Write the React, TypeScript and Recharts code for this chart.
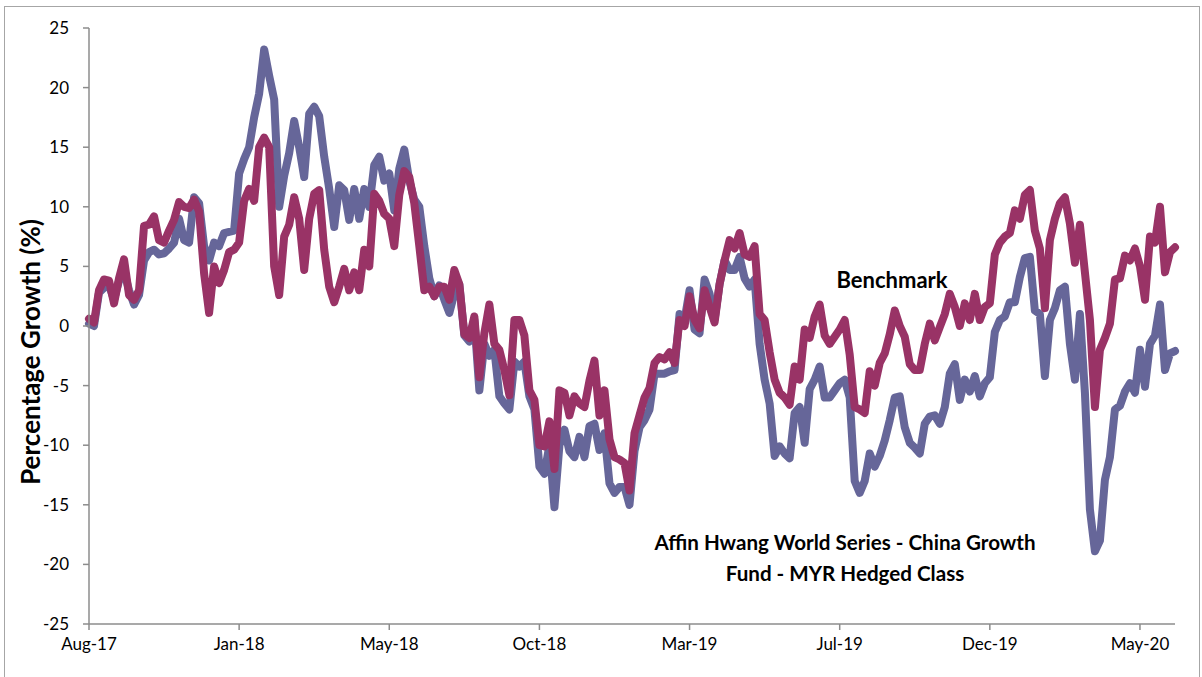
import React from 'react'
import { LineChart, Line, XAxis, YAxis } from 'recharts'

// category ticks shown on the date axis (index into the series)
const tickLabels = ['Aug-17', 'Jan-18', 'May-18', 'Oct-18', 'Mar-19', 'Jul-19', 'Dec-19', 'May-20']
const tickIndex = [0, 30, 60, 90, 120, 150, 180, 210]
const yTicks = [-25, -20, -15, -10, -5, 0, 5, 10, 15, 20, 25]

// Benchmark, % growth
const benchmark = [
  0.6, 0.3, 3.0, 3.9, 3.8, 1.9, 4.0, 5.6, 2.6, 2.2,
  3.0, 8.4, 8.5, 9.2, 7.2, 7.0, 8.0, 8.9, 10.4, 10.0,
  9.9, 10.6, 9.6, 4.4, 1.1, 5.0, 3.6, 4.7, 6.2, 6.4,
  7.0, 10.5, 11.5, 10.5, 15.0, 15.8, 15.0, 5.0,
  2.6, 7.5, 8.5, 10.8, 9.0, 4.7, 9.0, 11.1, 11.4, 6.4,
  3.3, 2.0, 3.3, 4.8, 3.0, 4.5, 3.0, 6.4, 5.0, 11.1,
  10.5, 9.4, 9.0, 6.7, 11.0, 13.0, 12.5, 10.3, 6.7, 3.0,
  3.3, 2.5, 3.3, 3.3, 2.2, 4.7, 3.5,
  -0.7, -1.0, 0.8, -4.3, -0.6, 1.8, -1.5, -2.0, -3.7, -5.8,
  0.5, 0.5, -0.8, -5.4, -6.2, -10.0, -10.1, -8.0, -12.0, -5.4,
  -5.6, -7.5, -5.9, -6.5, -6.8, -4.6, -2.9, -7.5, -5.4, -9.5,
  -11.0, -11.2, -11.5, -13.8, -9.0, -7.5, -6.0,
  -5.2, -3.1, -2.6, -2.8, -2.2, -3.1, 0.5, 0.0, 2.5, 0.5,
  -0.2, 3.0, 1.6, 0.3, 3.5, 5.5, 7.2, 6.5, 7.8, 6.0,
  5.8, 6.7, 1.0, 0.5, -2.2, -4.5, -5.6, -6.0, -6.6, -3.4,
  -4.5, -0.3, -1.0, 0.8, 1.8, -0.8, -1.5,
  -0.9, -0.3, 0.5, -2.4, -6.8, -7.0, -7.3, -3.8, -5.0, -3.1,
  -2.3, -0.7, 1.3, 0.0, -0.9, -3.2, -3.7, -3.7, -1.5, 0.2,
  -1.2, -0.1, 1.0, 2.7, 1.6, 0.0, 1.9, 0.5, 2.7, 0.5,
  1.6, 1.9, 6.0, 7.0, 7.5, 7.8, 9.7,
  9.0, 11.0, 11.4, 8.0, 6.5, 1.5, 7.2, 9.0, 10.3, 10.8,
  8.6, 5.3, 8.5, 4.5, 0.5, -6.8, -2.0, -1.0, 0.2, 3.9,
  4.0, 5.9, 5.5, 6.5, 5.0, 2.2, 7.5, 7.0, 10.0, 4.5, 6.2, 6.6,
]

// Affin Hwang World Series - China Growth Fund - MYR Hedged Class, % growth
const fund = [
  0.2, 0.0, 2.8, 3.2, 3.4, 2.2, 3.8, 4.6, 3.0, 1.8,
  2.6, 5.5, 6.2, 6.4, 6.0, 6.1, 6.5, 7.0, 9.0, 7.2,
  7.0, 10.8, 10.3, 6.7, 5.5, 7.0, 6.7, 7.8, 7.9, 8.0,
  12.8, 14.0, 15.0, 17.5, 19.5, 23.2, 21.0, 19.0,
  10.0, 12.6, 14.5, 17.2, 15.0, 12.5, 17.8, 18.4, 17.6, 14.2,
  11.5, 8.3, 11.8, 11.4, 8.9, 11.5, 9.0, 11.5, 10.0, 13.5,
  14.2, 12.2, 12.8, 9.7, 13.2, 14.8, 12.2, 10.6, 10.0, 6.7,
  4.0, 2.5, 3.4, 2.2, 1.1, 2.7, 3.5,
  -0.8, -1.3, 0.5, -5.4, -1.5, -2.5, -2.0, -5.9, -6.5, -7.0,
  -3.0, -3.4, -3.0, -5.9, -7.0, -11.8, -12.4, -10.0, -15.2, -10.0,
  -8.7, -10.5, -11.0, -9.3, -11.0, -8.4, -8.2, -10.4, -9.0, -13.2,
  -14.0, -13.5, -13.5, -15.0, -10.5, -8.5, -7.9,
  -7.0, -4.0, -4.0, -4.0, -3.8, -3.7, 1.0, 0.5, 3.0, -0.3,
  -0.6, 3.9, 2.7, 0.5, 3.5, 5.5, 4.7, 4.7, 5.8, 4.0,
  3.3, 3.9, -1.5, -4.5, -6.5, -10.9, -10.1, -10.7, -11.1, -7.3,
  -6.8, -9.8, -5.3, -4.5, -3.4, -6.0, -6.0,
  -5.4, -4.8, -4.5, -6.0, -13.0, -14.0, -13.0, -10.7, -11.8, -10.9,
  -9.6, -7.9, -6.0, -5.9, -8.5, -9.8, -10.2, -10.7, -8.2, -7.6,
  -7.5, -8.2, -6.8, -4.0, -3.2, -6.2, -4.5, -5.5, -4.2, -5.9,
  -4.8, -4.3, -0.5, 0.5, 0.8, 2.0, 2.0,
  4.1, 5.7, 5.8, 1.3, 1.0, -4.2, 0.5, 1.5, 3.0, 3.3,
  -1.5, -4.5, 1.0, -5.6, -15.4, -18.9, -18.0, -12.9, -11.0, -7.0,
  -6.7, -5.5, -4.8, -5.6, -2.0, -5.1, -1.5, -0.8, 1.8, -3.7, -2.3, -2.1,
]

const data = fund.map((f, i) => ({ i, fund: f, bench: benchmark[i] }))

const FONT = 'Lato, "Noto Sans", sans-serif'
const AXIS = '#8C8C8C'

export default function App() {
  const labelOf = (v: number) => tickLabels[tickIndex.indexOf(v)] ?? ''
  return (
    <div style={{ position: 'absolute', left: 0, top: 0, width: 1202, height: 677, background: '#fff', fontFamily: FONT, overflow: 'hidden' }}>
      <div style={{ position: 'absolute', left: 4, top: 6, width: 1194, height: 680, border: '1px solid #A6A6A6' }} />
      <LineChart width={1202} height={677} data={data} margin={{ top: 28, right: 27, left: 0, bottom: 0 }}>
        <XAxis
          dataKey="i"
          type="number"
          domain={[0, data.length - 1]}
          ticks={tickIndex}
          tickFormatter={labelOf}
          interval={0}
          height={53}
          tickSize={6}
          tickMargin={8}
          axisLine={{ stroke: AXIS, strokeWidth: 1.5 }}
          tickLine={{ stroke: AXIS, strokeWidth: 1.5 }}
          tick={{ fontSize: 17, fill: '#000', fontFamily: FONT }}
        />
        <YAxis
          type="number"
          domain={[-25, 25]}
          ticks={yTicks}
          interval={0}
          width={89}
          tickSize={6}
          tickMargin={14}
          axisLine={{ stroke: AXIS, strokeWidth: 1.5 }}
          tickLine={{ stroke: AXIS, strokeWidth: 1.5 }}
          tick={{ fontSize: 17, fill: '#000', fontFamily: FONT }}
        />
        <Line
          type="linear"
          dataKey="fund"
          stroke="#666699"
          strokeWidth={8}
          strokeLinejoin="round"
          strokeLinecap="round"
          dot={false}
          isAnimationActive={false}
        />
        <Line
          type="linear"
          dataKey="bench"
          stroke="#993366"
          strokeWidth={8}
          strokeLinejoin="round"
          strokeLinecap="round"
          dot={false}
          isAnimationActive={false}
        />
      </LineChart>
      <svg width={1202} height={677} style={{ position: 'absolute', left: 0, top: 0, pointerEvents: 'none' }}>
        <text transform="translate(40,352) rotate(-90)" textAnchor="middle" fontSize={26} fontWeight={700} fontFamily={FONT} fill="#000">
          Percentage Growth (%)
        </text>
        <text x={892} y={288} textAnchor="middle" fontSize={22} fontWeight={700} fontFamily={FONT} fill="#000">
          Benchmark
        </text>
        <text x={845} y={550} textAnchor="middle" fontSize={20.6} fontWeight={700} fontFamily={FONT} fill="#000">
          Affin Hwang World Series - China Growth
        </text>
        <text x={845} y={581} textAnchor="middle" fontSize={20.6} fontWeight={700} fontFamily={FONT} fill="#000">
          Fund - MYR Hedged Class
        </text>
      </svg>
    </div>
  )
}
